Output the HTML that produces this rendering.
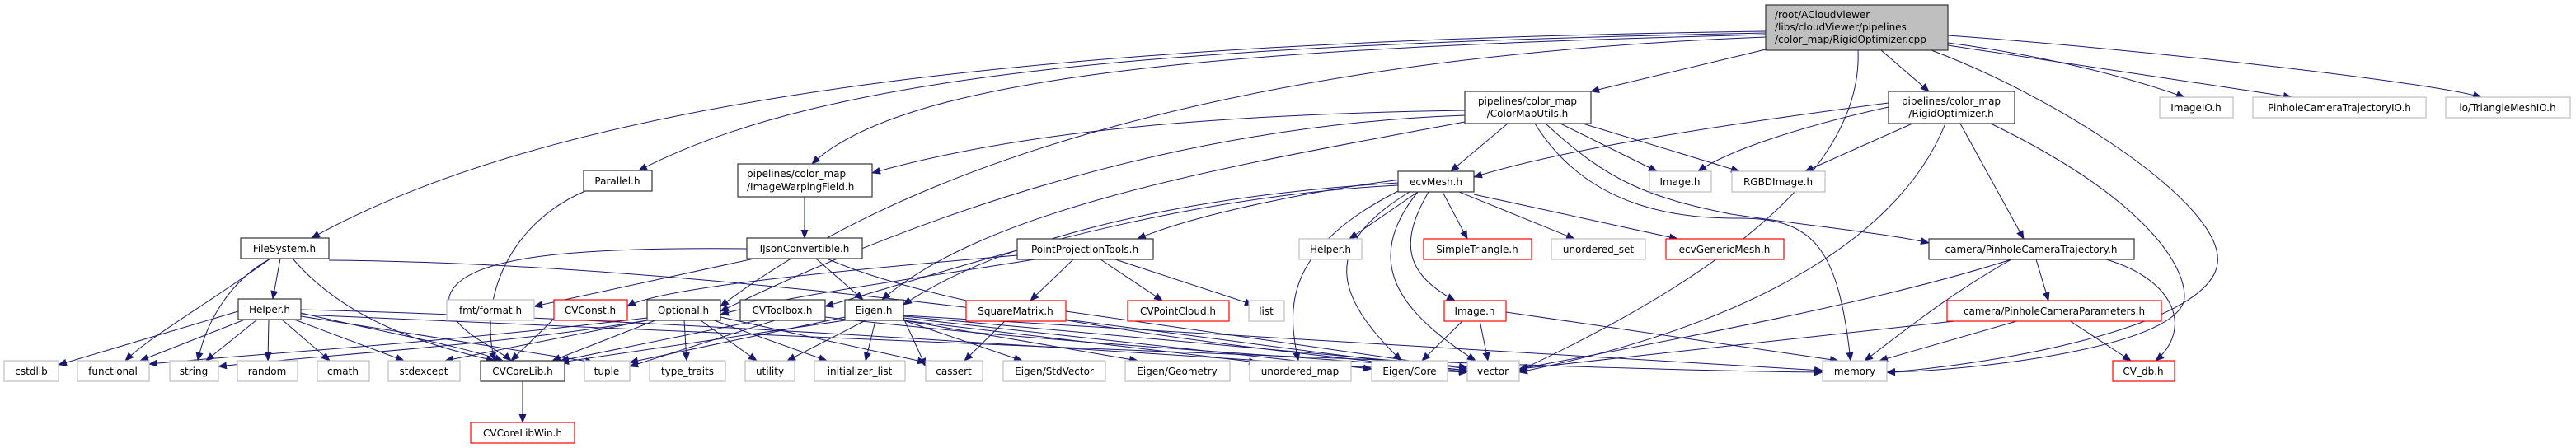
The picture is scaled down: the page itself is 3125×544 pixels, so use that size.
<!DOCTYPE html>
<html><head><meta charset="utf-8"><style>
html,body{margin:0;padding:0;background:#fff;}
svg{display:block;}
text{font-family:"DejaVu Sans","Liberation Sans",sans-serif;font-size:12px;fill:#000;}
.b{fill:#fff;stroke:#333;stroke-width:1.2}
.g{fill:#fff;stroke:#bfbfbf;stroke-width:1.2}
.r{fill:#fff;stroke:#ff0000;stroke-width:1.2}
.e{fill:none;stroke:#191970;stroke-width:1}
</style></head><body>
<svg width="3125" height="544" viewBox="0 0 3125 544" xmlns="http://www.w3.org/2000/svg">
<defs><marker id="a" markerUnits="userSpaceOnUse" markerWidth="11" markerHeight="9" refX="10" refY="4.5" orient="auto"><path d="M0,0 L11,4.5 L0,9 z" fill="#191970"/></marker></defs>
<g class="e" marker-end="url(#a)">
<path d="M2142,38 C1300,50 700,110 378,289"/>
<path d="M2142,40 C1400,55 1000,90 775,207"/>
<path d="M2142,42 C1500,58 1100,90 985,199"/>
<path d="M2142,45 C1500,70 1100,200 874,372"/>
<path d="M2142,60 L1930,111"/>
<path d="M2282,61 L2340,111"/>
<path d="M2363,52 C2500,70 2600,100 2650,118"/>
<path d="M2363,55 L2780,118"/>
<path d="M2363,43 C2600,60 2950,100 3010,118"/>
<path d="M2254,61 C2260,200 2100,330 1843,450"/>
<path d="M2343,61 C2500,120 2700,250 2690,320 C2680,400 2400,445 2289,452"/>
<path d="M1777,134 C1400,140 1200,170 1058,210"/>
<path d="M1829,150 L1760,208"/>
<path d="M1893,150 L2010,208"/>
<path d="M1920,150 L2110,208"/>
<path d="M1875,150 C1950,220 2000,240 2100,260 C2200,275 2300,285 2340,295"/>
<path d="M1862,150 C1930,260 2050,265 2110,265 C2200,265 2230,300 2245,438"/>
<path d="M1777,140 C1500,150 1200,220 874,378"/>
<path d="M1777,148 C1500,200 1200,250 1070,364"/>
<path d="M1700,218 C1600,230 1450,260 1380,290"/>
<path d="M1720,233 L1637,290"/>
<path d="M1750,233 L1780,290"/>
<path d="M1770,233 L1910,290"/>
<path d="M1788,236 L2035,290"/>
<path d="M1733,233 C1700,290 1700,330 1765,365"/>
<path d="M1710,233 C1600,300 1620,360 1700,438"/>
<path d="M1720,233 C1650,320 1700,380 1790,438"/>
<path d="M1700,230 C1560,300 1560,370 1575,438"/>
<path d="M1696,225 C1400,240 1150,330 1001,372"/>
<path d="M1696,222 C1400,240 1200,300 1096,370"/>
<path d="M1302,315 L1250,365"/>
<path d="M1335,315 L1410,365"/>
<path d="M1353,315 L1520,370"/>
<path d="M1234,310 C1000,330 800,350 761,372"/>
<path d="M1255,315 C1100,340 950,360 874,382"/>
<path d="M976,239 L976,289"/>
<path d="M915,314 L648,372"/>
<path d="M906,302 C700,300 560,310 545,360 C540,400 600,420 620,438"/>
<path d="M990,314 L1047,364"/>
<path d="M1003,314 C1200,400 1700,440 1780,452"/>
<path d="M340,314 L331,363"/>
<path d="M328,314 C250,370 180,410 152,438"/>
<path d="M328,314 C280,340 250,390 240,438"/>
<path d="M355,314 C420,390 520,420 600,438"/>
<path d="M399,316 C900,320 1500,420 1780,450"/>
<path d="M289,378 L71,443"/>
<path d="M297,388 L170,438"/>
<path d="M312,388 L250,438"/>
<path d="M326,388 L325,438"/>
<path d="M342,388 L400,438"/>
<path d="M357,388 L490,438"/>
<path d="M365,380 C450,400 560,420 610,438"/>
<path d="M365,384 L720,440"/>
<path d="M365,376 C900,390 1500,440 1780,452"/>
<path d="M365,382 C1000,410 1900,450 2211,452"/>
<path d="M710,232 C620,270 580,360 600,438"/>
<path d="M672,387 L620,438"/>
<path d="M795,389 L670,438"/>
<path d="M830,389 L833,438"/>
<path d="M850,389 L918,438"/>
<path d="M866,389 L1003,438"/>
<path d="M785,386 C500,420 300,430 181,442"/>
<path d="M785,389 C600,420 400,430 265,445"/>
<path d="M785,389 L540,438"/>
<path d="M874,385 L1123,440"/>
<path d="M920,389 L680,438"/>
<path d="M940,389 L764,445"/>
<path d="M1001,385 C1300,420 1700,440 1780,450"/>
<path d="M1050,389 L955,438"/>
<path d="M1062,389 L1050,438"/>
<path d="M1096,386 L1123,445"/>
<path d="M1096,389 L1240,438"/>
<path d="M1096,389 L1380,438"/>
<path d="M1096,389 L1525,440"/>
<path d="M1096,386 L1664,448"/>
<path d="M1096,384 L1780,446"/>
<path d="M1096,383 L2211,450"/>
<path d="M1025,389 L680,440"/>
<path d="M1025,385 L764,440"/>
<path d="M1220,389 L1170,438"/>
<path d="M1293,378 L1780,448"/>
<path d="M1775,389 L1725,438"/>
<path d="M1795,389 L1805,438"/>
<path d="M1827,379 L2230,438"/>
<path d="M2291,125 C2100,150 1900,180 1788,215"/>
<path d="M2291,130 C2200,150 2100,180 2060,208"/>
<path d="M2320,150 L2190,208"/>
<path d="M2378,150 L2455,290"/>
<path d="M2360,150 C2300,300 2100,400 1843,452"/>
<path d="M2415,150 C2600,240 2650,320 2650,360 C2650,420 2400,450 2289,452"/>
<path d="M2470,315 L2485,365"/>
<path d="M2440,315 C2360,360 2300,410 2262,438"/>
<path d="M2440,315 C2300,360 2100,400 1843,448"/>
<path d="M2555,315 C2640,340 2660,400 2615,438"/>
<path d="M2380,389 L1843,448"/>
<path d="M2450,389 L2280,438"/>
<path d="M2510,389 L2585,438"/>
<path d="M634,463 L634,513"/>
</g>
<!-- nodes -->
<rect x="2142" y="6" width="221" height="55" fill="#bfbfbf" stroke="#333" stroke-width="1.2"/>
<text x="2153" y="22">/root/ACloudViewer</text>
<text x="2153" y="37">/libs/cloudViewer/pipelines</text>
<text x="2153" y="52">/color_map/RigidOptimizer.cpp</text>

<rect class="b" x="1777" y="111" width="153" height="39"/><text x="1853" y="127" text-anchor="middle">pipelines/color_map</text><text x="1853" y="142" text-anchor="middle">/ColorMapUtils.h</text>
<rect class="b" x="2291" y="111" width="153" height="39"/><text x="2367" y="127" text-anchor="middle">pipelines/color_map</text><text x="2367" y="142" text-anchor="middle">/RigidOptimizer.h</text>
<rect class="g" x="2620" y="118" width="89" height="25"/><text x="2664" y="135" text-anchor="middle">ImageIO.h</text>
<rect class="g" x="2733" y="118" width="210" height="25"/><text x="2838" y="135" text-anchor="middle">PinholeCameraTrajectoryIO.h</text>
<rect class="g" x="2967" y="118" width="151" height="25"/><text x="3042" y="135" text-anchor="middle">io/TriangleMeshIO.h</text>

<rect class="b" x="708" y="207" width="83" height="25"/><text x="749" y="224" text-anchor="middle">Parallel.h</text>
<rect class="b" x="895" y="199" width="163" height="40"/><text x="906" y="215">pipelines/color_map</text><text x="906" y="231">/ImageWarpingField.h</text>
<rect class="b" x="1696" y="208" width="92" height="25"/><text x="1742" y="225" text-anchor="middle">ecvMesh.h</text>
<rect class="g" x="2001" y="208" width="75" height="25"/><text x="2038" y="225" text-anchor="middle">Image.h</text>
<rect class="g" x="2101" y="208" width="113" height="25"/><text x="2157" y="225" text-anchor="middle">RGBDImage.h</text>

<rect class="b" x="292" y="289" width="107" height="25"/><text x="345" y="306" text-anchor="middle">FileSystem.h</text>
<rect class="b" x="906" y="289" width="140" height="25"/><text x="976" y="306" text-anchor="middle">IJsonConvertible.h</text>
<rect class="b" x="1234" y="290" width="165" height="25"/><text x="1316" y="307" text-anchor="middle">PointProjectionTools.h</text>
<rect class="g" x="1576" y="290" width="76" height="25"/><text x="1614" y="307" text-anchor="middle">Helper.h</text>
<rect class="r" x="1727" y="290" width="131" height="25"/><text x="1792" y="307" text-anchor="middle">SimpleTriangle.h</text>
<rect class="g" x="1882" y="290" width="114" height="25"/><text x="1939" y="307" text-anchor="middle">unordered_set</text>
<rect class="r" x="2021" y="290" width="143" height="25"/><text x="2092" y="307" text-anchor="middle">ecvGenericMesh.h</text>
<rect class="b" x="2340" y="290" width="249" height="25"/><text x="2464" y="307" text-anchor="middle">camera/PinholeCameraTrajectory.h</text>

<rect class="b" x="289" y="363" width="76" height="25"/><text x="327" y="380" text-anchor="middle">Helper.h</text>
<rect class="g" x="542" y="364" width="106" height="25"/><text x="595" y="381" text-anchor="middle">fmt/format.h</text>
<rect class="r" x="672" y="364" width="89" height="25"/><text x="716" y="381" text-anchor="middle">CVConst.h</text>
<rect class="b" x="785" y="364" width="89" height="25"/><text x="829" y="381" text-anchor="middle">Optional.h</text>
<rect class="b" x="898" y="364" width="103" height="25"/><text x="949" y="381" text-anchor="middle">CVToolbox.h</text>
<rect class="b" x="1025" y="364" width="71" height="25"/><text x="1060" y="381" text-anchor="middle">Eigen.h</text>
<rect class="r" x="1172" y="365" width="121" height="25"/><text x="1232" y="382" text-anchor="middle">SquareMatrix.h</text>
<rect class="r" x="1368" y="365" width="123" height="25"/><text x="1429" y="382" text-anchor="middle">CVPointCloud.h</text>
<rect class="g" x="1515" y="365" width="43" height="25"/><text x="1536" y="382" text-anchor="middle">list</text>
<rect class="r" x="1752" y="365" width="75" height="25"/><text x="1789" y="382" text-anchor="middle">Image.h</text>
<rect class="r" x="2362" y="365" width="260" height="25"/><text x="2492" y="382" text-anchor="middle">camera/PinholeCameraParameters.h</text>

<rect class="g" x="5" y="438" width="66" height="25"/><text x="38" y="455" text-anchor="middle">cstdlib</text>
<rect class="g" x="94" y="438" width="87" height="25"/><text x="137" y="455" text-anchor="middle">functional</text>
<rect class="g" x="206" y="438" width="59" height="25"/><text x="235" y="455" text-anchor="middle">string</text>
<rect class="g" x="288" y="438" width="73" height="25"/><text x="324" y="455" text-anchor="middle">random</text>
<rect class="g" x="385" y="438" width="63" height="25"/><text x="416" y="455" text-anchor="middle">cmath</text>
<rect class="g" x="471" y="438" width="87" height="25"/><text x="514" y="455" text-anchor="middle">stdexcept</text>
<rect class="b" x="583" y="438" width="102" height="25"/><text x="634" y="455" text-anchor="middle">CVCoreLib.h</text>
<rect class="g" x="709" y="438" width="55" height="25"/><text x="736" y="455" text-anchor="middle">tuple</text>
<rect class="g" x="788" y="438" width="92" height="25"/><text x="834" y="455" text-anchor="middle">type_traits</text>
<rect class="g" x="904" y="438" width="60" height="25"/><text x="934" y="455" text-anchor="middle">utility</text>
<rect class="g" x="988" y="438" width="110" height="25"/><text x="1043" y="455" text-anchor="middle">initializer_list</text>
<rect class="g" x="1123" y="438" width="69" height="25"/><text x="1157" y="455" text-anchor="middle">cassert</text>
<rect class="g" x="1217" y="438" width="124" height="25"/><text x="1279" y="455" text-anchor="middle">Eigen/StdVector</text>
<rect class="g" x="1365" y="438" width="127" height="25"/><text x="1428" y="455" text-anchor="middle">Eigen/Geometry</text>
<rect class="g" x="1516" y="438" width="123" height="25"/><text x="1577" y="455" text-anchor="middle">unordered_map</text>
<rect class="g" x="1664" y="438" width="92" height="25"/><text x="1710" y="455" text-anchor="middle">Eigen/Core</text>
<rect class="g" x="1780" y="438" width="63" height="25"/><text x="1811" y="455" text-anchor="middle">vector</text>
<rect class="g" x="2211" y="438" width="78" height="25"/><text x="2250" y="455" text-anchor="middle">memory</text>
<rect class="r" x="2563" y="438" width="75" height="25"/><text x="2600" y="455" text-anchor="middle">CV_db.h</text>

<rect class="r" x="571" y="513" width="126" height="25"/><text x="634" y="530" text-anchor="middle">CVCoreLibWin.h</text>
</svg>
</body></html>
